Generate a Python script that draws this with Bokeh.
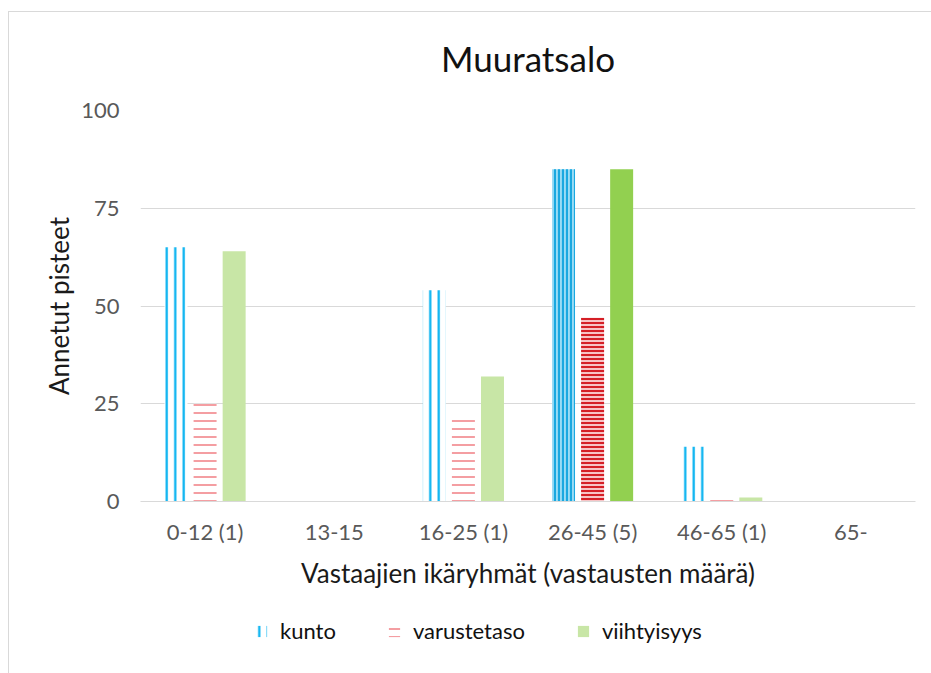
from bokeh.plotting import figure
from bokeh.layouts import column
from bokeh.models import (FactorRange, ColumnDataSource, Legend, LegendItem,
                          Range1d, FixedTicker)
from bokeh.transform import dodge
from bokeh.embed import file_html
from bokeh.resources import INLINE

# ---- data ----
categories = ["0-12 (1)", "13-15", "16-25 (1)", "26-45 (5)", "46-65 (1)", "65-"]
kunto = [65, 0, 54, 85, 14, 0]
varustetaso = [25, 0, 22, 47, 1, 0]
viihtyisyys = [64, 0, 32, 85, 1, 0]
series_names = ["kunto", "varustetaso", "viihtyisyys"]
highlight = "26-45 (5)"          # group drawn with stronger pattern
y_ticks = [0, 25, 50, 75, 100]

FONT = "Lato"

# styles (light = normal groups, strong = highlighted group)
light = [
    dict(fill_color="white", line_color=None, hatch_pattern="vertical_line",
         hatch_color="#00B0F0", hatch_weight=2.2, hatch_scale=8.5),
    dict(fill_color="white", line_color=None, hatch_pattern="horizontal_line",
         hatch_color="#F2868B", hatch_weight=1.6, hatch_scale=8),
    dict(fill_color="#C8E6A6", line_color=None),
]
strong = [
    dict(fill_color="#9ADCF5", line_color=None, hatch_pattern="vertical_line",
         hatch_color="#1AA8E0", hatch_weight=2.2, hatch_scale=4),
    dict(fill_color="#F7C3C5", line_color=None, hatch_pattern="horizontal_line",
         hatch_color="#D51F26", hatch_weight=2, hatch_scale=4),
    dict(fill_color="#92D050", line_color=None),
]

p = figure(x_range=FactorRange(*categories, range_padding=0),
           y_range=Range1d(0, 100),
           width=931, height=600,
           output_backend="svg", toolbar_location=None,
           min_border_left=140, min_border_right=16,
           min_border_top=110, min_border_bottom=99,
           title="Muuratsalo")
p.border_fill_alpha = 0

def split(vals):
    norm = {"x": [], "v": []}
    hi = {"x": [], "v": []}
    for c, v in zip(categories, vals):
        d = hi if c == highlight else norm
        d["x"].append(c)
        d["v"].append(v)
    return ColumnDataSource(norm), ColumnDataSource(hi)

W = 0.178
OFF = [-0.225, 0.0, 0.225]

for vals, off, st_l, st_s in zip([kunto, varustetaso, viihtyisyys], OFF, light, strong):
    s_n, s_h = split(vals)
    p.vbar(x=dodge("x", off, range=p.x_range), top="v", width=W, source=s_n, **st_l)
    p.vbar(x=dodge("x", off, range=p.x_range), top="v", width=W, source=s_h, **st_s)

# ---- styling ----
p.title.align = "center"
p.title.text_font = FONT
p.title.text_font_size = "35px"
p.title.text_font_style = "normal"
p.title.text_color = "#111111"
p.title.standoff = 64

p.outline_line_color = None
p.xgrid.grid_line_color = None
p.ygrid.grid_line_color = "#D9D9D9"
p.ygrid.grid_line_width = 1

p.yaxis.ticker = FixedTicker(ticks=y_ticks)
p.yaxis.axis_line_color = None
p.yaxis.major_tick_line_color = None
p.yaxis.minor_tick_line_color = None
p.yaxis.major_label_standoff = 15
p.yaxis.axis_label = "Annetut pisteet"
p.yaxis.axis_label_standoff = 3

p.xaxis.axis_line_color = "#D9D9D9"
p.xaxis.axis_line_width = 1
p.xaxis.major_tick_line_color = None
p.xaxis.minor_tick_line_color = None
p.xaxis.major_label_standoff = 10
p.xaxis.axis_label = "Vastaajien ikäryhmät (vastausten määrä)"
p.xaxis.axis_label_standoff = 9

for ax in (p.xaxis, p.yaxis):
    ax.major_label_text_font = FONT
    ax.major_label_text_font_size = "22px"
    ax.major_label_text_color = "#595959"
    ax.axis_label_text_font = FONT
    ax.axis_label_text_font_size = "26px"
    ax.axis_label_text_font_style = "normal"
    ax.axis_label_text_color = "#1a1a1a"

# ---- legend strip below the chart ----
lg = figure(x_range=Range1d(0, 1), y_range=Range1d(0, 1),
            width=931, height=73, output_backend="svg", toolbar_location=None,
            min_border=0, outline_line_color=None)
lg.border_fill_alpha = 0
lg.background_fill_alpha = 0
lg.axis.visible = False
lg.grid.visible = False
items = []
for name, st_l in zip(series_names, light):
    r = lg.vbar(x=[-5], top=[0], width=0.1, **st_l)
    items.append(LegendItem(label=name, renderers=[r]))

legend = Legend(items=items, orientation="horizontal", location=(114, 29),
                glyph_width=14, glyph_height=14, label_standoff=12,
                spacing=51, border_line_color=None,
                background_fill_alpha=0,
                label_text_font=FONT, label_text_font_size="22px",
                label_text_color="#111111", margin=0, padding=0)
lg.add_layout(legend, "center")

# thin chart-area border (top and left edges, as in the reference)
layout = column(p, lg, spacing=0,
                styles={"background-color": "white",
                        "background-image": "linear-gradient(#D9D9D9, #D9D9D9), "
                                            "linear-gradient(#D9D9D9, #D9D9D9)",
                        "background-size": "100% 1px, 1px 100%",
                        "background-position": "8px 11px, 8px 11px",
                        "background-repeat": "no-repeat"})
open("out.html", "w").write(file_html(layout, INLINE))
